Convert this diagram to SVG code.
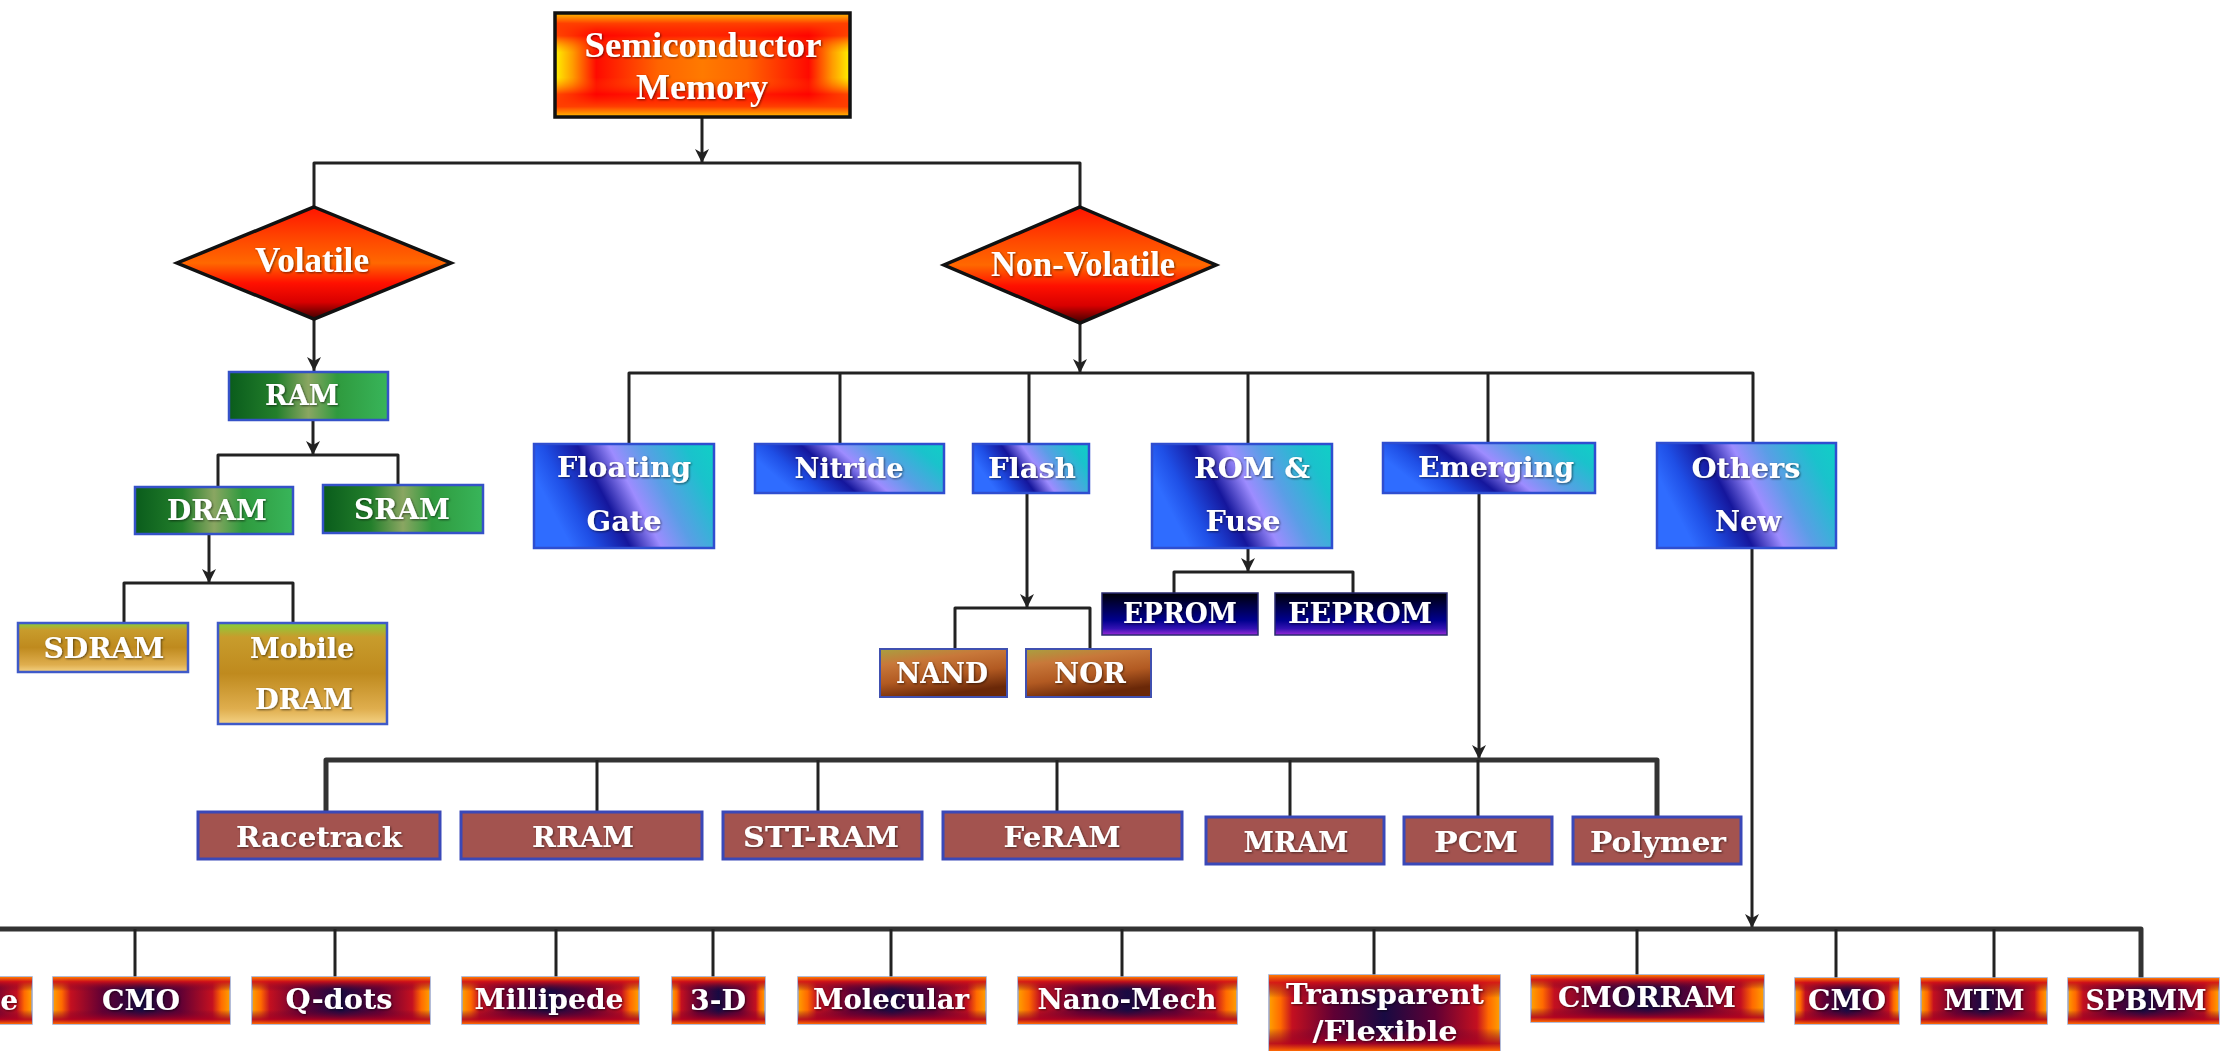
<svg xmlns="http://www.w3.org/2000/svg" width="2222" height="1051" viewBox="0 0 2222 1051">
  <defs>
    <style>
      .lbl { font-family: "DejaVu Serif", "Liberation Serif", serif; font-weight: bold; fill: #ffffff; text-anchor: middle; font-size: 28px; filter: url(#shadow); }
      .lbl2 { font-family: "Liberation Serif", "Times New Roman", serif; font-weight: bold; fill: #ffffff; text-anchor: middle; font-size: 36px; filter: url(#shadow); }
      .wire { fill: none; stroke: #222; stroke-width: 3; stroke-linejoin: round; }
      .bus { fill: none; stroke: #333; stroke-width: 5; stroke-linejoin: round; }
      .arrow { fill: none; stroke: #222; stroke-width: 3; marker-end: url(#arrowhead); }
      .blue { fill: url(#gBlue); stroke: #2f4ed0; stroke-width: 2.5; }
      .green { fill: url(#gGreen); stroke: #3552c8; stroke-width: 2.5; }
      .gold { fill: url(#gGold); stroke: #3f5ac8; stroke-width: 2.5; }
      .navy { fill: url(#gNavy); stroke: #2a2a70; stroke-width: 1.5; }
      .brown { fill: url(#gBrown); stroke: #4050b0; stroke-width: 2; }
      .rose { fill: #a3534f; stroke: #3a48b8; stroke-width: 3; }
      .fire { fill: url(#gFireH); stroke: #9aa6cc; stroke-width: 1.5; }
      .fireV { fill: url(#gFireV); }
      .diamond { fill: url(#gDiamond); stroke: #111; stroke-width: 3.5; stroke-linejoin: miter; }
    </style>
    <filter id="shadow" x="-10%" y="-20%" width="120%" height="140%">
      <feDropShadow dx="1" dy="1" stdDeviation="0.8" flood-color="#000" flood-opacity="0.55"/>
    </filter>
    <marker id="arrowhead" markerUnits="userSpaceOnUse" markerWidth="14" markerHeight="14" refX="14" refY="7" orient="auto" viewBox="0 0 14 14">
      <path d="M0,0 L14,7 L0,14 L4,7 Z" fill="#222"/>
    </marker>
    <linearGradient id="gBlue" x1="0" y1="0.3" x2="1" y2="0">
      <stop offset="0" stop-color="#2f6cff"/>
      <stop offset="0.12" stop-color="#1f4fe6"/>
      <stop offset="0.3" stop-color="#15169c"/>
      <stop offset="0.46" stop-color="#9d8cff"/>
      <stop offset="0.62" stop-color="#5a9ee6"/>
      <stop offset="0.85" stop-color="#1ac2cc"/>
      <stop offset="1" stop-color="#10cfc6"/>
    </linearGradient>
    <linearGradient id="gGreen" x1="0" y1="0" x2="1" y2="0">
      <stop offset="0" stop-color="#0a5c1c"/>
      <stop offset="0.3" stop-color="#237f2b"/>
      <stop offset="0.5" stop-color="#8aa662"/>
      <stop offset="0.68" stop-color="#2f9a3e"/>
      <stop offset="1" stop-color="#38b55a"/>
    </linearGradient>
    <linearGradient id="gGold" x1="0" y1="0" x2="0" y2="1">
      <stop offset="0" stop-color="#86d03a"/>
      <stop offset="0.14" stop-color="#c89c2c"/>
      <stop offset="0.5" stop-color="#bf8a1e"/>
      <stop offset="0.85" stop-color="#dfae4e"/>
      <stop offset="1" stop-color="#f4d284"/>
    </linearGradient>
    <linearGradient id="gNavy" x1="0" y1="0" x2="0" y2="1">
      <stop offset="0" stop-color="#000006"/>
      <stop offset="0.25" stop-color="#00003c"/>
      <stop offset="0.65" stop-color="#00008e"/>
      <stop offset="0.85" stop-color="#3412b4"/>
      <stop offset="1" stop-color="#9a28d8"/>
    </linearGradient>
    <linearGradient id="gBrown" x1="0" y1="0" x2="0.35" y2="1">
      <stop offset="0" stop-color="#a8a040"/>
      <stop offset="0.3" stop-color="#c8783a"/>
      <stop offset="0.65" stop-color="#b25a22"/>
      <stop offset="1" stop-color="#6a2808"/>
    </linearGradient>
    <linearGradient id="gFireH" x1="0" y1="0" x2="1" y2="0">
      <stop offset="0" stop-color="#ffa000"/>
      <stop offset="0.05" stop-color="#ff6a00"/>
      <stop offset="0.1" stop-color="#c41020"/>
      <stop offset="0.28" stop-color="#600034"/>
      <stop offset="0.5" stop-color="#180a42"/>
      <stop offset="0.72" stop-color="#600034"/>
      <stop offset="0.9" stop-color="#c41020"/>
      <stop offset="0.95" stop-color="#ff6a00"/>
      <stop offset="1" stop-color="#ffa000"/>
    </linearGradient>
    <linearGradient id="gFireV" x1="0" y1="0" x2="0" y2="1">
      <stop offset="0" stop-color="#ff7a00" stop-opacity="1"/>
      <stop offset="0.1" stop-color="#d01018" stop-opacity="0.9"/>
      <stop offset="0.3" stop-color="#600030" stop-opacity="0"/>
      <stop offset="0.7" stop-color="#600030" stop-opacity="0"/>
      <stop offset="0.9" stop-color="#b00020" stop-opacity="0.85"/>
      <stop offset="1" stop-color="#ff6a00" stop-opacity="1"/>
    </linearGradient>
    <linearGradient id="gSunH" x1="0" y1="0" x2="1" y2="0">
      <stop offset="0" stop-color="#fff200"/>
      <stop offset="0.06" stop-color="#ff9c00"/>
      <stop offset="0.14" stop-color="#ff0a00"/>
      <stop offset="0.35" stop-color="#ff6400"/>
      <stop offset="0.5" stop-color="#ff7a00"/>
      <stop offset="0.65" stop-color="#ff6400"/>
      <stop offset="0.86" stop-color="#ff0a00"/>
      <stop offset="0.94" stop-color="#ff9c00"/>
      <stop offset="1" stop-color="#fff200"/>
    </linearGradient>
    <linearGradient id="gSunV" x1="0" y1="0" x2="0" y2="1">
      <stop offset="0" stop-color="#ffc000" stop-opacity="1"/>
      <stop offset="0.1" stop-color="#ff4000" stop-opacity="1"/>
      <stop offset="0.22" stop-color="#ff0000" stop-opacity="0.7"/>
      <stop offset="0.38" stop-color="#ff6000" stop-opacity="0"/>
      <stop offset="0.62" stop-color="#ff6000" stop-opacity="0"/>
      <stop offset="0.78" stop-color="#ff0000" stop-opacity="0.7"/>
      <stop offset="0.9" stop-color="#ff4000" stop-opacity="1"/>
      <stop offset="1" stop-color="#ffc000" stop-opacity="1"/>
    </linearGradient>
    <linearGradient id="gDiamond" x1="0" y1="0" x2="0" y2="1">
      <stop offset="0" stop-color="#ff1400"/>
      <stop offset="0.3" stop-color="#ff4a00"/>
      <stop offset="0.5" stop-color="#ff6800"/>
      <stop offset="0.68" stop-color="#ff1000"/>
      <stop offset="0.85" stop-color="#d80000"/>
      <stop offset="1" stop-color="#3c0000"/>
    </linearGradient>
  </defs>

  <rect width="2222" height="1051" fill="#ffffff"/>

  <!-- connectors -->
  <g id="connectors">
    <path class="arrow" d="M702,116 V163"/>
    <path class="wire" d="M314,207 V163 H1080 V207"/>
    <path class="arrow" d="M314,319 V371"/>
    <path class="arrow" d="M313,420 V455"/>
    <path class="wire" d="M218,487 V455 H398 V485"/>
    <path class="arrow" d="M209,534 V583"/>
    <path class="wire" d="M124,623 V583 H293 V623"/>
    <path class="arrow" d="M1080,323 V373"/>
    <path class="wire" d="M629,444 V373 H1753 V443"/>
    <path class="wire" d="M840,373 V444"/>
    <path class="wire" d="M1029,373 V493"/>
    <path class="wire" d="M1248,373 V444"/>
    <path class="wire" d="M1488,373 V443"/>
    <path class="arrow" d="M1027,493 V608"/>
    <path class="wire" d="M955,649 V608 H1090 V649"/>
    <path class="arrow" d="M1248,548 V572"/>
    <path class="wire" d="M1174,593 V572 H1353 V593"/>
    <path class="arrow" d="M1479,493 V759"/>
    <path class="bus" d="M326,812 V760 H1657 V817"/>
    <path class="wire" d="M597,760 V812 M818,760 V812 M1057,760 V812 M1290,760 V817 M1478,760 V817"/>
    <path class="arrow" d="M1752,548 V928"/>
    <path class="bus" d="M0,929 H2141 V978"/>
    <path class="wire" d="M135,929 V977 M335,929 V977 M556,929 V977 M713,929 V977 M891,929 V977 M1122,929 V977 M1374,929 V975 M1637,929 V975 M1836,929 V978 M1994,929 V978"/>
  </g>

  <!-- root -->
  <g id="node-semiconductor-memory">
    <rect x="555" y="13" width="295" height="104" fill="url(#gSunH)"/>
    <rect x="555" y="13" width="295" height="104" fill="url(#gSunV)" stroke="#111" stroke-width="3.5"/>
    <text class="lbl2" x="703" y="57" textLength="237" lengthAdjust="spacingAndGlyphs">Semiconductor</text>
    <text class="lbl2" x="702" y="99" textLength="132" lengthAdjust="spacingAndGlyphs">Memory</text>
  </g>

  <!-- decision nodes -->
  <g id="node-volatile">
    <polygon class="diamond" points="314,207 451,263 314,319 177,263"/>
    <text class="lbl2" x="312" y="272" font-size="34" textLength="114" lengthAdjust="spacingAndGlyphs">Volatile</text>
  </g>
  <g id="node-non-volatile">
    <polygon class="diamond" points="1080,207 1216,265 1080,323 944,265"/>
    <text class="lbl2" x="1083" y="276" font-size="34" textLength="184" lengthAdjust="spacingAndGlyphs">Non-Volatile</text>
  </g>

  <!-- volatile branch -->
  <g id="node-ram">
    <rect class="green" x="229" y="372" width="159" height="48"/>
    <text class="lbl" x="302" y="405" textLength="74" lengthAdjust="spacingAndGlyphs">RAM</text>
  </g>
  <g id="node-dram">
    <rect class="green" x="135" y="487" width="158" height="47"/>
    <text class="lbl" x="217" y="520" textLength="100" lengthAdjust="spacingAndGlyphs">DRAM</text>
  </g>
  <g id="node-sram">
    <rect class="green" x="323" y="485" width="160" height="48"/>
    <text class="lbl" x="402" y="519" textLength="96" lengthAdjust="spacingAndGlyphs">SRAM</text>
  </g>
  <g id="node-sdram">
    <rect class="gold" x="18" y="623" width="170" height="49"/>
    <text class="lbl" x="104" y="658" textLength="121" lengthAdjust="spacingAndGlyphs">SDRAM</text>
  </g>
  <g id="node-mobile-dram">
    <rect class="gold" x="218" y="623" width="169" height="101"/>
    <text class="lbl" x="302" y="658" textLength="104" lengthAdjust="spacingAndGlyphs">Mobile</text>
    <text class="lbl" x="304" y="709" textLength="98" lengthAdjust="spacingAndGlyphs">DRAM</text>
  </g>

  <!-- non-volatile branch -->
  <g id="node-floating-gate">
    <rect class="blue" x="534" y="444" width="180" height="104"/>
    <text class="lbl" x="624" y="477" textLength="134" lengthAdjust="spacingAndGlyphs">Floating</text>
    <text class="lbl" x="624" y="531" textLength="75" lengthAdjust="spacingAndGlyphs">Gate</text>
  </g>
  <g id="node-nitride">
    <rect class="blue" x="755" y="444" width="189" height="49"/>
    <text class="lbl" x="849" y="478" textLength="109" lengthAdjust="spacingAndGlyphs">Nitride</text>
  </g>
  <g id="node-flash">
    <rect class="blue" x="973" y="444" width="116" height="49"/>
    <text class="lbl" x="1032" y="478" textLength="88" lengthAdjust="spacingAndGlyphs">Flash</text>
  </g>
  <g id="node-rom-fuse">
    <rect class="blue" x="1152" y="444" width="180" height="104"/>
    <text class="lbl" x="1252" y="478" textLength="116" lengthAdjust="spacingAndGlyphs">ROM &amp;</text>
    <text class="lbl" x="1243" y="531" textLength="75" lengthAdjust="spacingAndGlyphs">Fuse</text>
  </g>
  <g id="node-emerging">
    <rect class="blue" x="1383" y="443" width="212" height="50"/>
    <text class="lbl" x="1496" y="477" textLength="156" lengthAdjust="spacingAndGlyphs">Emerging</text>
  </g>
  <g id="node-others-new">
    <rect class="blue" x="1657" y="443" width="179" height="105"/>
    <text class="lbl" x="1746" y="478" textLength="109" lengthAdjust="spacingAndGlyphs">Others</text>
    <text class="lbl" x="1748" y="531" textLength="66" lengthAdjust="spacingAndGlyphs">New</text>
  </g>
  <g id="node-nand">
    <rect class="brown" x="880" y="649" width="127" height="48"/>
    <text class="lbl" x="942" y="683" textLength="92" lengthAdjust="spacingAndGlyphs">NAND</text>
  </g>
  <g id="node-nor">
    <rect class="brown" x="1026" y="649" width="125" height="48"/>
    <text class="lbl" x="1090" y="683" textLength="72" lengthAdjust="spacingAndGlyphs">NOR</text>
  </g>
  <g id="node-eprom">
    <rect class="navy" x="1102" y="593" width="156" height="42"/>
    <text class="lbl" x="1180" y="623" textLength="114" lengthAdjust="spacingAndGlyphs">EPROM</text>
  </g>
  <g id="node-eeprom">
    <rect class="navy" x="1275" y="593" width="172" height="42"/>
    <text class="lbl" x="1360" y="623" textLength="144" lengthAdjust="spacingAndGlyphs">EEPROM</text>
  </g>

  <!-- emerging technologies -->
  <g id="node-racetrack">
    <rect class="rose" x="198" y="812" width="242" height="47"/>
    <text class="lbl" x="319" y="847" textLength="166" lengthAdjust="spacingAndGlyphs">Racetrack</text>
  </g>
  <g id="node-rram">
    <rect class="rose" x="461" y="812" width="241" height="47"/>
    <text class="lbl" x="583" y="847" textLength="102" lengthAdjust="spacingAndGlyphs">RRAM</text>
  </g>
  <g id="node-stt-ram">
    <rect class="rose" x="723" y="812" width="199" height="47"/>
    <text class="lbl" x="821" y="847" textLength="156" lengthAdjust="spacingAndGlyphs">STT-RAM</text>
  </g>
  <g id="node-feram">
    <rect class="rose" x="943" y="812" width="239" height="47"/>
    <text class="lbl" x="1062" y="847" textLength="117" lengthAdjust="spacingAndGlyphs">FeRAM</text>
  </g>
  <g id="node-mram">
    <rect class="rose" x="1206" y="817" width="178" height="47"/>
    <text class="lbl" x="1296" y="852" textLength="105" lengthAdjust="spacingAndGlyphs">MRAM</text>
  </g>
  <g id="node-pcm">
    <rect class="rose" x="1404" y="817" width="148" height="47"/>
    <text class="lbl" x="1476" y="852" textLength="84" lengthAdjust="spacingAndGlyphs">PCM</text>
  </g>
  <g id="node-polymer">
    <rect class="rose" x="1573" y="817" width="168" height="47"/>
    <text class="lbl" x="1658" y="852" textLength="136" lengthAdjust="spacingAndGlyphs">Polymer</text>
  </g>

  <!-- other new technologies -->
  <g id="node-edge">
    <rect class="fire" x="-120" y="977" width="152" height="47"/>
    <rect class="fireV" x="-120" y="977" width="152" height="47"/>
    <text class="lbl" x="18" y="1010" style="text-anchor:end">e</text>
  </g>
  <g id="node-cmo-1">
    <rect class="fire" x="53" y="977" width="177" height="47"/>
    <rect class="fireV" x="53" y="977" width="177" height="47"/>
    <text class="lbl" x="141" y="1010" textLength="78" lengthAdjust="spacingAndGlyphs">CMO</text>
  </g>
  <g id="node-q-dots">
    <rect class="fire" x="252" y="977" width="178" height="47"/>
    <rect class="fireV" x="252" y="977" width="178" height="47"/>
    <text class="lbl" x="339" y="1009" textLength="107" lengthAdjust="spacingAndGlyphs">Q-dots</text>
  </g>
  <g id="node-millipede">
    <rect class="fire" x="462" y="977" width="177" height="47"/>
    <rect class="fireV" x="462" y="977" width="177" height="47"/>
    <text class="lbl" x="549" y="1009" textLength="149" lengthAdjust="spacingAndGlyphs">Millipede</text>
  </g>
  <g id="node-3d">
    <rect class="fire" x="672" y="977" width="93" height="47"/>
    <rect class="fireV" x="672" y="977" width="93" height="47"/>
    <text class="lbl" x="718" y="1010" textLength="56" lengthAdjust="spacingAndGlyphs">3-D</text>
  </g>
  <g id="node-molecular">
    <rect class="fire" x="798" y="977" width="188" height="47"/>
    <rect class="fireV" x="798" y="977" width="188" height="47"/>
    <text class="lbl" x="891" y="1009" textLength="156" lengthAdjust="spacingAndGlyphs">Molecular</text>
  </g>
  <g id="node-nano-mech">
    <rect class="fire" x="1018" y="977" width="219" height="47"/>
    <rect class="fireV" x="1018" y="977" width="219" height="47"/>
    <text class="lbl" x="1127" y="1009" textLength="179" lengthAdjust="spacingAndGlyphs">Nano-Mech</text>
  </g>
  <g id="node-transparent-flexible">
    <rect class="fire" x="1269" y="975" width="231" height="76"/>
    <rect class="fireV" x="1269" y="975" width="231" height="76"/>
    <text class="lbl" x="1385" y="1004" textLength="198" lengthAdjust="spacingAndGlyphs">Transparent</text>
    <text class="lbl" x="1385" y="1041" textLength="145" lengthAdjust="spacingAndGlyphs">/Flexible</text>
  </g>
  <g id="node-cmorram">
    <rect class="fire" x="1531" y="975" width="233" height="47"/>
    <rect class="fireV" x="1531" y="975" width="233" height="47"/>
    <text class="lbl" x="1647" y="1007" textLength="178" lengthAdjust="spacingAndGlyphs">CMORRAM</text>
  </g>
  <g id="node-cmo-2">
    <rect class="fire" x="1795" y="978" width="104" height="46"/>
    <rect class="fireV" x="1795" y="978" width="104" height="46"/>
    <text class="lbl" x="1847" y="1010" textLength="78" lengthAdjust="spacingAndGlyphs">CMO</text>
  </g>
  <g id="node-mtm">
    <rect class="fire" x="1921" y="978" width="126" height="46"/>
    <rect class="fireV" x="1921" y="978" width="126" height="46"/>
    <text class="lbl" x="1984" y="1010" textLength="81" lengthAdjust="spacingAndGlyphs">MTM</text>
  </g>
  <g id="node-spbmm">
    <rect class="fire" x="2068" y="978" width="151" height="46"/>
    <rect class="fireV" x="2068" y="978" width="151" height="46"/>
    <text class="lbl" x="2146" y="1010" textLength="121" lengthAdjust="spacingAndGlyphs">SPBMM</text>
  </g>
</svg>
